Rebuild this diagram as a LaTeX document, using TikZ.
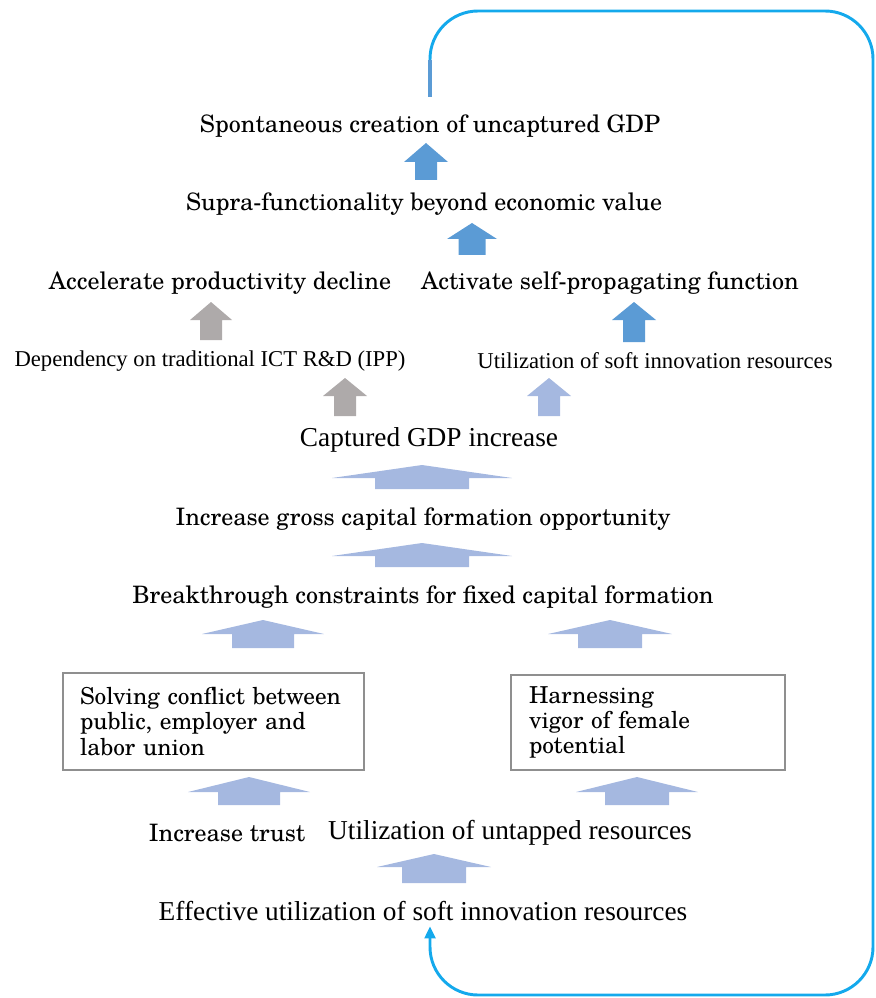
\documentclass[tikz,border=0pt]{standalone}
\usepackage{fontspec}
\newfontfamily\timesf{Liberation Serif}
\newfontfamily\centf{texgyreschola-regular.otf}
\usetikzlibrary{arrows.meta}
\definecolor{strongblue}{HTML}{5B9BD5}
\definecolor{paleblue}{HTML}{A5B8E0}
\definecolor{arrowgray}{HTML}{AEAAAA}
\definecolor{loopcyan}{HTML}{14A9EC}
\definecolor{boxgray}{HTML}{8F8F8F}
% fat up-arrow: x, tip y, head half width, shaft half width, head base y, bottom y, colour
\newcommand{\fatarrow}[7]{%
  \fill[#7] (#1,#2) -- ({#1+#3},#5) -- ({#1+#4},#5) -- ({#1+#4},#6)
    -- ({#1-#4},#6) -- ({#1-#4},#5) -- ({#1-#3},#5) -- cycle;}
\tikzset{
  cent/.style={font=\centf\fontsize{18}{22}\selectfont, inner sep=0pt},
  tms/.style={font=\timesf\fontsize{20.5}{24}\selectfont, inner sep=0pt},
  tmssmall/.style={font=\timesf\fontsize{17}{20}\selectfont, inner sep=0pt},
  boxed/.style={draw=boxgray, line width=0.9pt, align=left, inner ysep=0pt,
    font=\centf\fontsize{17.5}{19}\selectfont},
}
\begin{document}
\begin{tikzpicture}[x=0.75pt,y=-0.75pt]
    \useasboundingbox (0,0) rectangle (875,998);

    \node[cent] (spont) at (430,126) {Spontaneous creation of uncaptured GDP};
    \node[cent] (supra) at (424,204) {Supra-functionality beyond economic value};
    \node[cent] (accel) at (220,283) {Accelerate productivity decline};
    \node[cent] (activ) at (610,283) {Activate self-propagating function};
    \node[tmssmall] (depend) at (210,361) {Dependency on traditional ICT R\&D (IPP)};
    \node[tmssmall] (softres) at (655,361) {Utilization of soft innovation resources};
    \node[tms] (capt) at (429,440) {Captured GDP increase};
    \node[cent] (gross) at (423,519) {Increase gross capital formation opportunity};
    \node[cent] (brk) at (423,597) {Breakthrough constraints for fixed capital formation};
    \node[boxed, inner xsep=12.75pt, text width=200.25pt, minimum height=72.75pt]
        (conflict) at (213.5,721.5) {Solving conflict between\\public, employer and\\labor union};
    \node[boxed, inner xsep=13.5pt, text width=178.5pt, minimum height=71.25pt]
        (female) at (648,722.5) {Harnessing\\vigor of female\\potential};
    \node[cent] (trust) at (227,833) {Increase trust};
    \node[tms] (untap) at (510,833) {Utilization of untapped resources};
    \node[tms] (eff) at (423,911) {Effective utilization of soft innovation resources};

    % block arrows
    \fatarrow{426}{143}{22}{11}{162}{180}{strongblue}
    \fatarrow{472}{223}{25}{13.5}{239}{255}{strongblue}
    \fatarrow{634}{302}{22}{11}{320}{342}{strongblue}
    \fatarrow{211}{302}{21}{11}{320}{340}{arrowgray}
    \fatarrow{345}{378}{22}{11}{396}{416}{arrowgray}
    \foreach \cx/\ty/\hw/\sw/\by/\bot in {549/378/22/11/396/416, 422/465/90/47/478/489,
        422/543/90/47/556/567, 263/620/61/31/634/648, 610/620/62/32/634/648,
        249/777/61/31/792/805, 637/777/61/32/792/805, 434/854/57/32/867/883} {
        \fatarrow{\cx}{\ty}{\hw}{\sw}{\by}{\bot}{paleblue}
    }

    % feedback loop
    \coordinate (loopfoot) at (430,97);
    \coordinate (loophead) at (430,60);
    \draw[strongblue, line width=3pt] (loopfoot) -- (loophead);
    \draw[loopcyan, line width=2.2pt, rounded corners=36pt, shorten >=4pt,
        -{Triangle[length=9pt,width=8pt]}]
        (loophead) -- (430,11) -- (873,11) -- (873,995) -- (430,995) -- (eff.south -| loophead);
\end{tikzpicture}
\end{document}
